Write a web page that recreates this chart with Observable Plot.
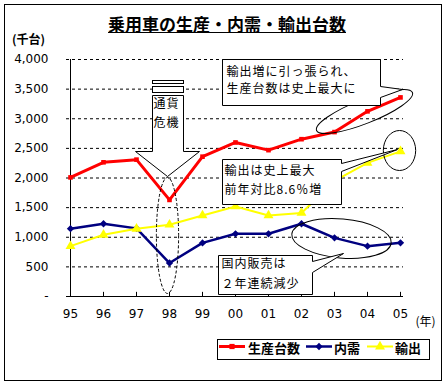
<!DOCTYPE html>
<html><head><meta charset="utf-8">
<script src="https://cdn.jsdelivr.net/npm/d3@7"></script>
<script src="https://cdn.jsdelivr.net/npm/@observablehq/plot@0.6"></script>
<style>
body{margin:0;background:#fff;}
#wrap{position:relative;width:448px;height:385px;overflow:hidden;background:#fff;}
#frame{position:absolute;left:4px;top:4px;width:438px;height:377px;border:1px solid #000;box-sizing:border-box;}
#chart{position:absolute;left:0;top:0;}
#title{position:absolute;left:0;width:454px;top:14px;text-align:center;font-family:"Noto Sans CJK JP";font-weight:bold;font-size:17px;line-height:20px;text-decoration:underline;}
#unit{position:absolute;left:12px;top:31px;font-family:"Noto Sans CJK JP";font-weight:bold;font-size:12px;line-height:16px;}
#legend{position:absolute;left:217px;top:339px;}
</style></head><body>
<div id="wrap">
  <div id="frame"></div>
  <div id="chart"></div>
  <div id="title">乗用車の生産・内需・輸出台数</div>
  <div id="unit">(千台)</div>
  <div id="legend"></div>
</div>
<script>
// ---- data (thousand units) ----
const years = ["95","96","97","98","99","00","01","02","03","04","05"];
const production = [2010, 2265, 2310, 1630, 2360, 2600, 2470, 2655, 2775, 3125, 3360];
const domestic   = [1145, 1228, 1150,  565,  905, 1058, 1058, 1228,  990,  850,  906];
const exportsVal = [ 850, 1042, 1142, 1212, 1368, 1520, 1368, 1410, 1950, 2255, 2450];
const seriesNames = ["生産台数", "内需", "輸出"];
const yearUnit = "(年)";
const notes = {
  crisis: ["通貨", "危機"],
  prod: ["輸出増に引っ張られ、", "生産台数は史上最大に"],
  exp: ["輸出は史上最大", "前年対比8.6％増"],
  dom: ["国内販売は", "２年連続減少"]
};

const colors = ["#FF0000", "#000080", "#FFFF00"];
const rows = (vals) => years.map((y, i) => ({year: y, value: vals[i]}));
const prodRows = rows(production), domRows = rows(domestic), expRows = rows(exportsVal);
const diamond = d3.symbolDiamond2 || "diamond";

const chart = Plot.plot({
  width: 448, height: 385,
  marginLeft: 66, marginRight: 45, marginTop: 59, marginBottom: 89,
  style: {fontFamily: "DejaVu Sans", fontSize: "12px", background: "transparent", color: "#000"},
  x: {type: "point", domain: years, padding: 0, tickSize: 0, tickPadding: 13, label: null},
  y: {domain: [0, 4000], ticks: 8, tickSize: 0, tickPadding: 18, label: null,
      tickFormat: d => d === 0 ? "-" : d3.format(",")(d)},
  marks: [
    Plot.ruleY(d3.range(500, 4001, 500), {stroke: "#000", strokeWidth: 1, strokeDasharray: "3,3"}),
    Plot.ruleY([0], {stroke: "#000"}),
    Plot.ruleX([years[0]], {stroke: "#000"}),
    Plot.ruleX(years, {y1: 0, y2: 70, stroke: "#000"}),
    Plot.lineY(domRows, {x: "year", y: "value", stroke: colors[1], strokeWidth: 2.5}),
    Plot.dot(domRows, {x: "year", y: "value", symbol: diamond, r: 3.3, fill: colors[1], stroke: "none"}),
    Plot.lineY(expRows, {x: "year", y: "value", stroke: colors[2], strokeWidth: 2}),
    Plot.dot(expRows, {x: "year", y: "value", symbol: "triangle", r: 3.7, fill: colors[2], stroke: "none"}),
    Plot.lineY(prodRows, {x: "year", y: "value", stroke: colors[0], strokeWidth: 3}),
    Plot.dot(prodRows, {x: "year", y: "value", symbol: "square", r: 2.6, fill: colors[0], stroke: "none"})
  ]
});
document.getElementById("chart").appendChild(chart);

// ---- annotations anchored to the scales ----
const xs = chart.scale("x"), ys = chart.scale("y");
const step = (xs.range[1] - xs.range[0]) / (years.length - 1);
const X = i => Math.round(xs.range[0] + i * step) + 0.5;
const Y = v => Math.round(ys.range[0] + (v - ys.domain[0]) / (ys.domain[1] - ys.domain[0]) * (ys.range[1] - ys.range[0])) + 0.5;
const svg = d3.select(chart);
const g = svg.append("g").attr("fill", "none").attr("stroke", "#000").attr("stroke-width", 1).attr("text-anchor", "start");
const jp = sel => sel.attr("font-family", "Noto Sans CJK JP").attr("font-size", 12).attr("letter-spacing", 1)
  .attr("fill", "#000").attr("stroke", "none").attr("text-anchor", "start");

function callout(b) {
  const d = `M${X(b.i0)},${Y(b.v0)}H${X(b.i1)}V${Y(b.t1)}L${X(b.ti)},${Y(b.tv)}L${X(b.i1)},${Y(b.t2)}V${Y(b.v1)}H${X(b.i0)}Z`;
  g.append("path").attr("d", d).attr("fill", "#fff");
  b.lines.forEach((t, k) => {
    g.append("text").call(jp).attr("x", X(b.tx)).attr("y", Y(b.ty[k])).attr("dy", "0.36em").text(t);
  });
}
function ellipse(e) {
  const cx = X(e.i), cy = Y(e.v);
  g.append("ellipse").attr("cx", cx).attr("cy", cy).attr("rx", e.rx * step).attr("ry", e.ry)
    .attr("transform", `rotate(${e.rot || 0},${cx},${cy})`)
    .attr("stroke-dasharray", e.dash || null);
}

// crisis arrow at 98
const ci = years.indexOf("98");
g.append("rect").attr("x", X(ci - 0.46)).attr("y", Y(3646)).attr("width", X(ci + 0.46) - X(ci - 0.46)).attr("height", Y(3590) - Y(3646)).attr("fill", "#fff");
g.append("rect").attr("x", X(ci - 0.46)).attr("y", Y(3544)).attr("width", X(ci + 0.46) - X(ci - 0.46)).attr("height", Y(3443) - Y(3544)).attr("fill", "#fff");
g.append("path").attr("fill", "#fff").attr("d",
  `M${X(ci - 0.46)},${Y(3392)}H${X(ci + 0.46)}V${Y(2447)}H${X(ci + 0.95)}L${X(ci)},${Y(2025)}L${X(ci - 0.95)},${Y(2447)}H${X(ci - 0.46)}Z`);
g.append("text").call(jp).attr("x", X(ci - 0.42)).attr("y", Y(3250)).attr("dy", "0.36em").text(notes.crisis[0]);
g.append("text").call(jp).attr("x", X(ci - 0.42)).attr("y", Y(2944)).attr("dy", "0.36em").text(notes.crisis[1]);
ellipse({i: ci, v: 1030, rx: 0.33, ry: 58, dash: "3,2"});

// production note
ellipse({i: 8.83, v: 3122, rx: 1.53, ry: 12, rot: -21.6});
callout({i0: 4.62, i1: 9.31, v0: 4000, v1: 3224, t1: 3544, t2: 3359, ti: 9.96, tv: 3494,
  tx: 4.76, ty: [3803, 3506], lines: notes.prod});

// export note
ellipse({i: 9.87, v: 2464, rx: 0.48, ry: 20});
callout({i0: 4.62, i1: 8.15, v0: 2312, v1: 1553, t1: 2245, t2: 2110, ti: 9.81, tv: 2481,
  tx: 4.68, ty: [2127, 1801], lines: notes.exp});

// domestic note
ellipse({i: 8.15, v: 979, rx: 1.48, ry: 19.5, rot: 5});
callout({i0: 4.5, i1: 7.29, v0: 692, v1: 34, t1: 591, t2: 405, ti: 8.21, tv: 726,
  tx: 4.6, ty: [557, 219], lines: notes.dom});

// year unit
svg.append("text").attr("x", X(years.length - 1) + 12).attr("y", Y(0) + 25).attr("dy", "0.36em")
  .attr("text-anchor", "start").attr("font-family", "Noto Sans CJK JP").attr("font-size", 12).text(yearUnit);

// ---- legend ----
const lg = d3.select("#legend").append("svg").attr("width", 214).attr("height", 22);
lg.append("rect").attr("x", 0.5).attr("y", 0.5).attr("width", 212).attr("height", 20).attr("fill", "#fff").attr("stroke", "#000");
const items = [
  {x: 2, tx: 31, sym: d3.symbolSquare, size: 27, w: 3},
  {x: 89, tx: 117, sym: d3.symbolDiamond2 || d3.symbolDiamond, size: 34, w: 2.5},
  {x: 150, tx: 178, sym: d3.symbolTriangle, size: 43, w: 2}
];
items.forEach((it, k) => {
  lg.append("line").attr("x1", it.x).attr("x2", it.x + 26).attr("y1", 7.5).attr("y2", 7.5)
    .attr("stroke", colors[k]).attr("stroke-width", it.w);
  lg.append("path").attr("d", d3.symbol(it.sym, it.size)()).attr("transform", `translate(${it.x + 13},7.5)`).attr("fill", colors[k]);
  lg.append("text").attr("x", it.tx).attr("y", 9).attr("dy", "0.36em")
    .attr("font-family", "Noto Sans CJK JP").attr("font-weight", "bold").attr("font-size", 13).text(seriesNames[k]);
});
</script>
</body></html>
